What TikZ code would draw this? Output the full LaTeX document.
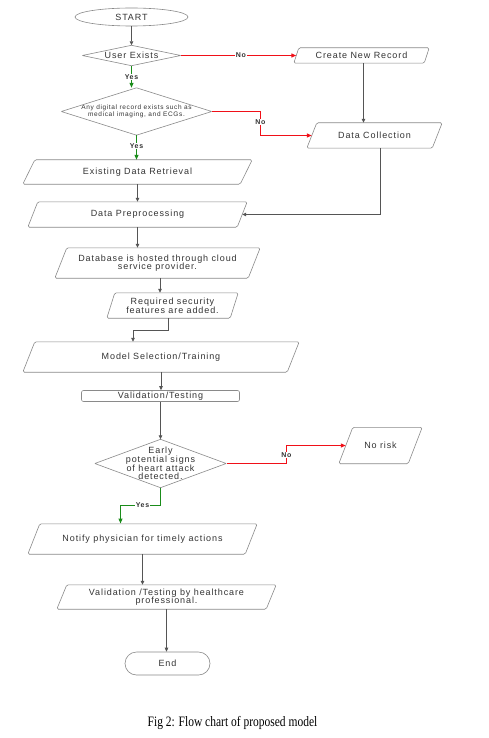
\documentclass[tikz,border=0pt]{standalone}
\usepackage{fontspec}
\usepackage{graphicx}
\setmainfont{Liberation Sans}[LetterSpace=10]
\newfontfamily\capfont{Liberation Serif}
\usetikzlibrary{arrows.meta,shapes.geometric}
\definecolor{linegray}{HTML}{555555}
\definecolor{boxgray}{HTML}{8A8A8A}
\definecolor{flowred}{HTML}{F01018}
\definecolor{flowgreen}{HTML}{1A8C1A}
\tikzset{
  txt/.style={rectangle, inner sep=0pt, align=center, font=\fontsize{9}{8.6}\selectfont, text=black!80},
  outline/.style={draw=boxgray, line width=0.6pt, rounded corners=1.5pt},
  conn/.style={draw=linegray, line width=0.8pt, -{Triangle[length=4pt,width=3.5pt]}},
  noconn/.style={draw=flowred, line width=1.1pt, -{Triangle[length=5pt,width=4pt]}},
  yesconn/.style={draw=flowgreen, line width=1.1pt, -{Triangle[length=5pt,width=4pt]}},
  lab/.style={font=\bfseries\fontsize{7}{8}\selectfont, text=black!80, fill=white, inner sep=0.6pt},
}
% parallelogram: name, center, mid width, height, slant, text
\newcommand\paral[6]{%
  \node[txt, minimum width=#3, minimum height=#4] (#1) at #2 {#6};
  \draw[outline] ([xshift=-#5/2]#1.south west) -- ([xshift=#5/2]#1.north west)
     -- ([xshift=#5/2]#1.north east) -- ([xshift=-#5/2]#1.south east) -- cycle;}
% diamond: name, center, width, height, text, font
\newcommand\diam[6]{%
  \node[txt, minimum width=#3, minimum height=#4, font=#6] (#1) at #2 {#5};
  \draw[outline, rounded corners=0.5pt] (#1.north) -- (#1.east) -- (#1.south) -- (#1.west) -- cycle;}
\begin{document}
\begin{tikzpicture}[x=1pt,y=-1pt]
\useasboundingbox (0,0) rectangle (488,738);
\fill[white] (0,0) rectangle (488,738);

% START
\node[txt, draw=boxgray, line width=0.6pt, ellipse, minimum width=113, minimum height=18] (start) at (131.5,17) {START};
\diam{ue}{(131.5,55.5)}{98}{20}{User Exists}{\fontsize{9}{8.6}\selectfont}
\paral{cnr}{(361.5,55.5)}{130}{15}{5}{Create New Record}
\diam{dr}{(136.5,111.5)}{150}{47}{Any digital record exists such as\\medical imaging, and ECGs.}{\fontsize{6.5}{7.6}\selectfont}
\paral{dc}{(374.5,135.5)}{125}{25}{10}{Data Collection}
\paral{edr}{(137.5,172)}{217}{24}{12}{Existing Data Retrieval}
\paral{dp}{(137.5,214.5)}{209}{25}{10}{Data Preprocessing}
\paral{db}{(157.5,263)}{193}{30}{12}{Database is hosted through cloud\\service provider.}
\paral{rs}{(172.5,305.5)}{123}{25}{8}{Required security\\features are added.}
\paral{ms}{(161,357)}{264}{30}{12}{Model Selection/Training}
\node[txt, draw=boxgray, line width=0.6pt, rounded corners=2pt, minimum width=158, minimum height=11] (vt) at (160.5,396) {Validation/Testing};
\diam{ea}{(160.5,463.5)}{131}{48}{Early\\potential signs\\of heart attack\\detected.}{\fontsize{9}{8.6}\selectfont}
\paral{nr}{(380.5,445.5)}{69}{36}{14}{No risk}
\paral{np}{(142.5,539)}{217}{30}{12}{Notify physician for timely actions}
\paral{vh}{(166.5,597)}{209}{24}{10}{Validation /Testing by healthcare\\professional.}
\node[txt, draw=boxgray, line width=0.6pt, rounded corners=11.5pt, minimum width=85, minimum height=23] (end) at (167.5,663.5) {End};

% connectors
\draw[conn] (start.south) -- (ue.north);
\draw[noconn] ([xshift=0.3pt]ue.east) -- node[lab, pos=0.52] {No} (cnr.west);
\draw[yesconn] ([yshift=-0.3pt]ue.south) -- node[lab, pos=0.5] {Yes} (ue.south |- dr.north);
\draw[conn] ([xshift=2]cnr.south) -- ([xshift=2]cnr.south |- dc.north);
\draw[noconn] ([xshift=0.3pt]dr.east) -- (260.5,111.5) -- node[lab, pos=0.45] {No} (260.5,135.5) -- (dc.west);
\draw[yesconn] ([yshift=-0.3pt]dr.south) -- node[lab, pos=0.45] {Yes} (dr.south |- edr.north);
\draw[conn] (edr.south) -- (edr.south |- dp.north);
\draw[conn] ([xshift=5.5]dc.south) |- (dp.east);
\draw[conn] (dp.south) -- (dp.south |- db.north);
\draw[conn] ([xshift=2.5]db.south) -- ([xshift=2.5]db.south |- rs.north);
\draw[conn] ([xshift=-4.5]rs.south) -- ++(0,12) -| ([xshift=-28]ms.north);
\draw[conn] (ms.south) -- (ms.south |- vt.north);
\draw[conn] (vt.south) -- (ea.north);
\draw[noconn] ([xshift=0.3pt]ea.east) -- (286.5,463.5) -- node[lab, pos=0.45] {No} (286.5,445.5) -- (nr.west);
\draw[yesconn] ([yshift=-0.3pt]ea.south) -- (160.5,505.5) -- node[lab, pos=0.45] {Yes} (120.5,505.5) -- (120.5,523.5);
\draw[conn] (np.south) -- (np.south |- vh.north);
\draw[conn] (vh.south) -- (vh.south |- end.north);

% caption
\node[font=\capfont\fontsize{11.5}{12}\selectfont, inner sep=0pt] (cap) at (232.5,723) {\scalebox{1}[1.25]{Fig 2: Flow chart of proposed model}};
\end{tikzpicture}
\end{document}
